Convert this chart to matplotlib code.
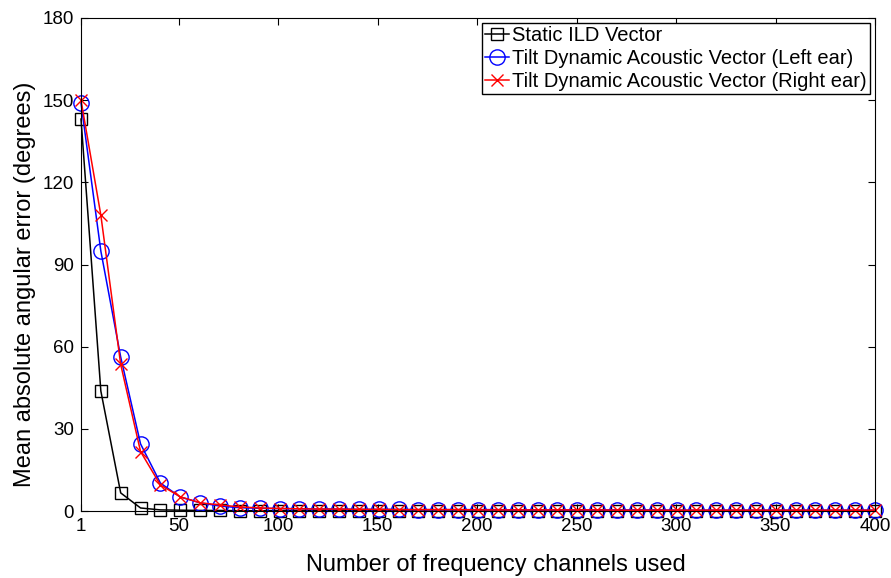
import numpy as np
import matplotlib.pyplot as plt

# 41 channel counts evenly spaced from 1 to 400
channels = np.linspace(1, 400, 41)

static_ild = [143.1, 43.8, 6.6, 1.1, 0.4, 0.3, 0.2, 0.2, 0.1, 0.1,
              0.1, 0.1, 0.1, 0.1, 0.1, 0.1, 0.1, 0.0, 0.0, 0.0,
              0.0, 0.0, 0.0, 0.0, 0.0, 0.0, 0.0, 0.0, 0.0, 0.0,
              0.0, 0.0, 0.0, 0.0, 0.0, 0.0, 0.0, 0.0, 0.0, 0.0, 0.0]
left_ear = [149.0, 94.9, 56.2, 24.5, 10.2, 5.1, 3.0, 1.8, 1.2, 1.0,
            0.9, 0.8, 0.7, 0.7, 0.6, 0.6, 0.6, 0.5, 0.5, 0.5,
            0.5, 0.5, 0.4, 0.4, 0.4, 0.4, 0.4, 0.4, 0.4, 0.4,
            0.3, 0.3, 0.3, 0.3, 0.3, 0.3, 0.3, 0.3, 0.3, 0.3, 0.3]
right_ear = [150.0, 108.0, 53.5, 21.7, 9.5, 5.2, 3.0, 2.2, 1.5, 1.1,
             0.9, 0.8, 0.7, 0.7, 0.6, 0.6, 0.5, 0.5, 0.5, 0.5,
             0.4, 0.4, 0.4, 0.4, 0.4, 0.4, 0.4, 0.3, 0.3, 0.3,
             0.3, 0.3, 0.3, 0.3, 0.3, 0.3, 0.3, 0.3, 0.3, 0.3, 0.3]

xticks = [1, 50, 100, 150, 200, 250, 300, 350, 400]
yticks = [0, 30, 60, 90, 120, 150, 180]

plt.rcParams['font.family'] = ['Liberation Sans', 'DejaVu Sans']

fig = plt.figure(figsize=(8.91, 5.78), dpi=100)
ax = fig.add_axes([81 / 891, 1 - 511 / 578, 794 / 891, 493 / 578])

ax.plot(channels, static_ild, color='black', marker='s', markersize=9,
        markerfacecolor='none', markeredgewidth=1.0, linewidth=1.1,
        label='Static ILD Vector', clip_on=False)
ax.plot(channels, left_ear, color='blue', marker='o', markersize=11,
        markerfacecolor='none', markeredgewidth=1.0, linewidth=1.1,
        label='Tilt Dynamic Acoustic Vector (Left ear)', clip_on=False)
ax.plot(channels, right_ear, color='red', marker='x', markersize=9,
        markeredgewidth=1.0, linewidth=1.1,
        label='Tilt Dynamic Acoustic Vector (Right ear)', clip_on=False)

ax.set_xlim(1, 400)
ax.set_ylim(0, 180)
ax.set_xticks(xticks)
ax.set_yticks(yticks)
ax.tick_params(direction='in', top=True, right=True, labelsize=13.5, length=5, pad=5)
ax.set_xlabel('Number of frequency channels used', fontsize=17)
ax.set_ylabel('Mean absolute angular error (degrees)', fontsize=17, labelpad=5)
ax.xaxis.set_label_coords(0.522, -0.088)
ax.yaxis.label.set_y(0.46)

leg = ax.legend(loc='upper right', fontsize=14.5, handlelength=1.2,
                handletextpad=0.15, borderpad=0.15, labelspacing=0.2,
                borderaxespad=0.25, fancybox=False, framealpha=1)
leg.get_frame().set_edgecolor('black')
leg.get_frame().set_linewidth(1.0)

fig.savefig('out.png', dpi=100)
